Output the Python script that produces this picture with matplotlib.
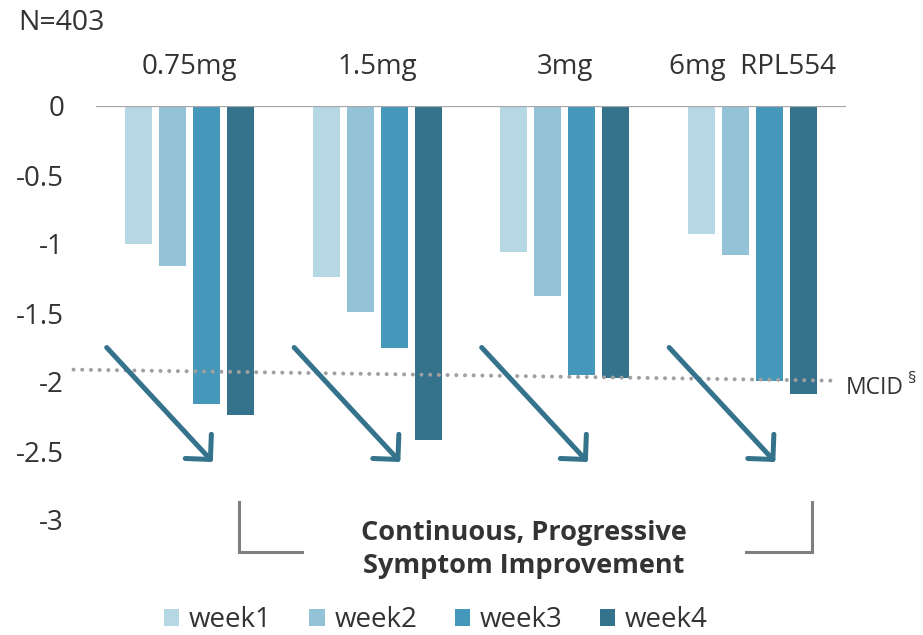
import numpy as np
import matplotlib
matplotlib.use('Agg')
import matplotlib.pyplot as plt
from matplotlib.patches import Patch

plt.rcParams['font.family'] = ['Open Sans', 'DejaVu Sans']

#-----------------
# data
#-----------------
doses = ['0.75mg', '1.5mg', '3mg', '6mg  RPL554']
weeks = ['week1', 'week2', 'week3', 'week4']
week1 = [-1.00, -1.24, -1.06, -0.93]
week2 = [-1.16, -1.49, -1.38, -1.08]
week3 = [-2.16, -1.75, -1.95, -1.99]
week4 = [-2.24, -2.42, -1.97, -2.09]
yticks = [0, -0.5, -1, -1.5, -2, -2.5, -3]
yticklabels = ['0', '-0.5', '-1', '-1.5', '-2', '-2.5', '-3']
# MCID reference line (slightly tilted in the slide)
mcid_x = [-0.62, 3.42]
mcid_y = [-1.91, -1.99]

colors = ['#b5d8e4', '#94c2d6', '#4698ba', '#35728b']
txt = '#333333'

fig = plt.figure(figsize=(9.23, 6.35), dpi=100)
ax = fig.add_axes([96/923, 1 - 520/635, 750/923, 414/635])

x = np.arange(len(doses))
step = 0.1813
width = 0.144
series = [week1, week2, week3, week4]
for k, (vals, c) in enumerate(zip(series, colors)):
    ax.bar(x + (k - 1.5) * step, vals, width=width, color=c, zorder=2)

ax.axhline(0, color='#a6a6a6', lw=1.6, zorder=3)
ax.plot(mcid_x, mcid_y, color='#a0a0a0', lw=2.9, ls=(0, (0.01, 2.15)),
        dash_capstyle='round', zorder=4, clip_on=False)
ax.text(mcid_x[1] + 0.08, mcid_y[1] - 0.05, 'MCID', color=txt, fontsize=16.5,
        va='center', ha='left')
ax.text(mcid_x[1] + 0.405, mcid_y[1] + 0.01, '\u00a7', color=txt, fontsize=12,
        va='center', ha='left')

ax.set_xlim(-0.5, 3.5)
ax.set_ylim(-3, 0)
ax.set_yticks(yticks)
ax.set_yticklabels(yticklabels, fontsize=20, color=txt)
ax.set_xticks([])
ax.tick_params(axis='y', length=0, pad=23)
for s in ax.spines.values():
    s.set_visible(False)

# dose labels above each group
for i, d in enumerate(doses):
    ax.text(i, 1.094, d, transform=ax.get_xaxis_transform(), ha='center',
            va='center', fontsize=20, color=txt)

# downward arrows for each dose
for i in x:
    ax.annotate('', xy=(i + 0.123, -2.58), xytext=(i - 0.443, -1.75),
                arrowprops=dict(arrowstyle='->,head_length=0.64,head_width=0.64',
                                color='#35728b', lw=3.6, mutation_scale=20,
                                shrinkA=0, shrinkB=0, capstyle='round'),
                zorder=5)

# bracket + caption
ax.plot([0.265, 0.265, 0.599], [-2.87, -3.23, -3.23], color='#7f7f7f', lw=2.2,
        clip_on=False, solid_joinstyle='miter')
ax.plot([2.967, 3.319, 3.319], [-3.23, -3.23, -2.87], color='#7f7f7f', lw=2.2,
        clip_on=False, solid_joinstyle='miter')
ax.text(1.78, -3.215, 'Continuous, Progressive\nSymptom Improvement', ha='center',
        va='center', fontsize=19.5, fontweight='bold', color=txt, linespacing=1.33,
        clip_on=False)

fig.text(18/923, 1 - 23/635, 'N=403', ha='left', va='center', fontsize=20.5, color=txt)

handles = [Patch(facecolor=c, edgecolor='none') for c in colors]
leg = fig.legend(handles, weeks, loc='center', bbox_to_anchor=(436/923, 1 - 620/635),
                 ncol=4, frameon=False, fontsize=20, handlelength=0.55, handleheight=0.55,
                 handletextpad=0.35, columnspacing=1.35, labelcolor=txt)

fig.savefig('out.png', dpi=100)
